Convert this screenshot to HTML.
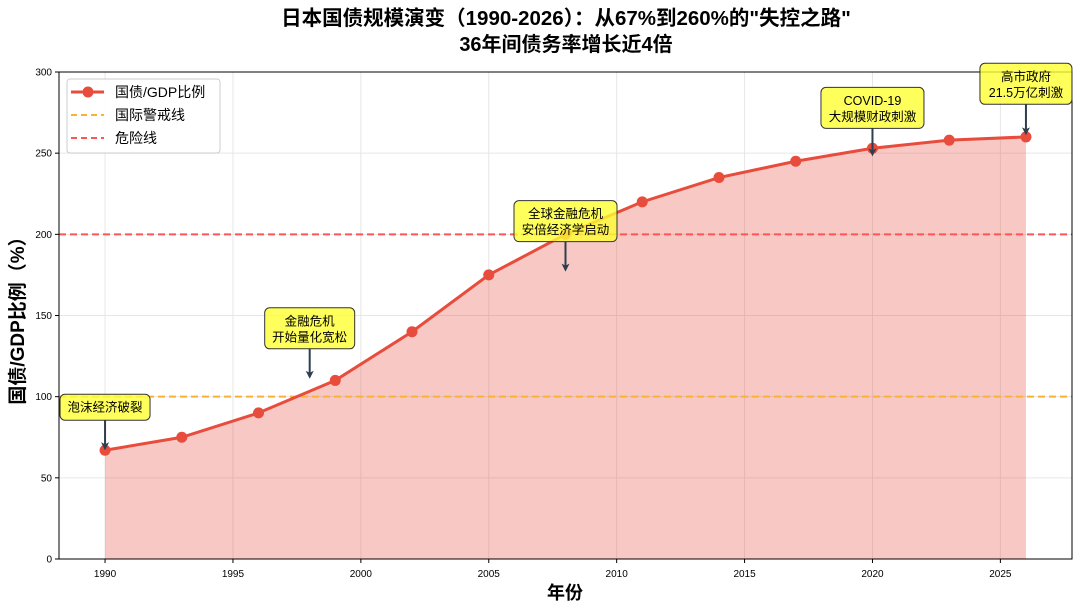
<!DOCTYPE html>
<html><head><meta charset="utf-8"><style>
body{margin:0;background:#fff}
svg text{font-family:"Liberation Sans","Noto Sans CJK SC",sans-serif}
</style></head><body>
<svg id="c" width="1080" height="611" viewBox="0 0 1080 611">
<defs><marker id="ah" markerWidth="8" markerHeight="8" refX="6" refY="4" orient="auto" markerUnits="userSpaceOnUse"><path d="M0,0 L8,4 L0,8 L2,4 Z" fill="#2c3e50"/></marker></defs>
<text x="566" y="25" text-anchor="middle" font-size="20.5" font-weight="bold">日本国债规模演变（1990-2026）：从67%到260%的"失控之路"</text>
<text x="566" y="51" text-anchor="middle" font-size="20" font-weight="bold">36年间债务率增长近4倍</text>
<g id="grid"></g>
<g id="marks"></g>
<rect x="59" y="72" width="1013" height="487" fill="none" stroke="#000" stroke-width="1"/>
<g id="axes"></g>
<text x="565" y="599" text-anchor="middle" font-size="18" font-weight="bold">年份</text>
<text transform="translate(24,316) rotate(-90)" text-anchor="middle" font-size="19" font-weight="bold">国债/GDP比例（%）</text>
<g id="ann"></g>
<g>
<rect x="67" y="79" width="153" height="74" rx="3" fill="#fff" fill-opacity="0.85" stroke="#ccc"/>
<line x1="71" y1="92" x2="104" y2="92" stroke="#e74c3c" stroke-width="3"/><circle cx="88" cy="92" r="5.5" fill="#e74c3c"/>
<text x="115" y="97" font-size="14">国债/GDP比例</text>
<line x1="71" y1="115" x2="104" y2="115" stroke="#f9b233" stroke-width="2" stroke-dasharray="6,4"/>
<text x="115" y="120" font-size="14">国际警戒线</text>
<line x1="71" y1="138" x2="104" y2="138" stroke="#f55" stroke-width="2" stroke-dasharray="6,4"/>
<text x="115" y="143" font-size="14">危险线</text>
</g>
</svg>
<script>
const years=[1990,1993,1996,1999,2002,2005,2008,2011,2014,2017,2020,2023,2026];
const ratios=[67,75,90,110,140,175,200,220,235,245,253,258,260];
const xTicks=[1990,1995,2000,2005,2010,2015,2020,2025];
const yTicks=[0,50,100,150,200,250,300];
const annTexts=[["泡沫经济破裂"],["金融危机","开始量化宽松"],["全球金融危机","安倍经济学启动"],["COVID-19","大规模财政刺激"],["高市政府","21.5万亿刺激"]];
const annYears=[1990,1998,2008,2020,2026];
const annValues=[67,111,177,248,261];
const annOffsets=[[0,-30],[0,-30],[0,-30],[0,-28],[0,-31]];
const NS="http://www.w3.org/2000/svg";
const X=v=>59+(v-1988.2)/(2027.8-1988.2)*1013;
const Y=v=>559-v/300*487;
function mk(p,t,a){const e=document.createElementNS(NS,t);for(const k in a)e.setAttribute(k,a[k]);p.appendChild(e);return e;}
const g=document.getElementById('grid'),ax=document.getElementById('axes'),m=document.getElementById('marks'),an=document.getElementById('ann');
xTicks.forEach(t=>{const l=mk(g,'line',{x1:X(t),x2:X(t),y1:72,y2:559,stroke:'#e6e6e6'});

mk(ax,'line',{x1:X(t),x2:X(t),y1:559,y2:563,stroke:'#000'});
const tx=mk(ax,'text',{x:X(t),y:577,'text-anchor':'middle','font-size':10});tx.textContent=t;
});
yTicks.forEach(t=>{const l=mk(g,'line',{x1:59,x2:1072,y1:Y(t),y2:Y(t),stroke:'#e6e6e6'});

mk(ax,'line',{x1:55,x2:59,y1:Y(t),y2:Y(t),stroke:'#000'});
const tx=mk(ax,'text',{x:52,y:Y(t)+3.5,'text-anchor':'end','font-size':10});tx.textContent=t;
});
const pts=years.map((y,i)=>[X(y),Y(ratios[i])]);
const area=mk(m,'path',{d:'M'+pts[0][0]+','+Y(0)+pts.map(p=>'L'+p[0]+','+p[1]).join('')+'L'+pts[pts.length-1][0]+','+Y(0)+'Z',fill:'#e74c3c','fill-opacity':0.3});

const w=mk(m,'line',{x1:59,x2:1072,y1:Y(100),y2:Y(100),stroke:'#f9b233','stroke-width':2,'stroke-dasharray':'7,4'});

const d=mk(m,'line',{x1:59,x2:1072,y1:Y(200),y2:Y(200),stroke:'#f55','stroke-width':2,'stroke-dasharray':'7,4'});

const ln=mk(m,'polyline',{points:pts.map(p=>p.join(',')).join(' '),fill:'none',stroke:'#e74c3c','stroke-width':3});

pts.forEach(p=>{const c=mk(m,'circle',{cx:p[0],cy:p[1],r:5.5,fill:'#e74c3c'});
});
function tw(s){let n=0;for(const ch of s)n+=ch.charCodeAt(0)>255?13:7;return n;}
annTexts.forEach((lines,i)=>{const tx=X(annYears[i]),ty=Y(annValues[i]);
const cx=tx+annOffsets[i][0],bottom=ty+annOffsets[i][1];
const h=lines.length===1?26:41,wd=Math.max(...lines.map(tw))+12;
const grp=mk(an,'g',{});
mk(grp,'line',{x1:tx,x2:tx,y1:bottom,y2:ty-2,stroke:'#2c3e50','stroke-width':2,'marker-end':'url(#ah)'});
mk(grp,'rect',{x:cx-wd/2,y:bottom-h,width:wd,height:h,rx:5,fill:'#ffff33','fill-opacity':0.8,stroke:'#333'});
lines.forEach((s,j)=>{const t=mk(grp,'text',{x:cx,y:bottom-h+17.5+j*16,'text-anchor':'middle','font-size':12.5});t.textContent=s;});});
</script>
</body></html>
